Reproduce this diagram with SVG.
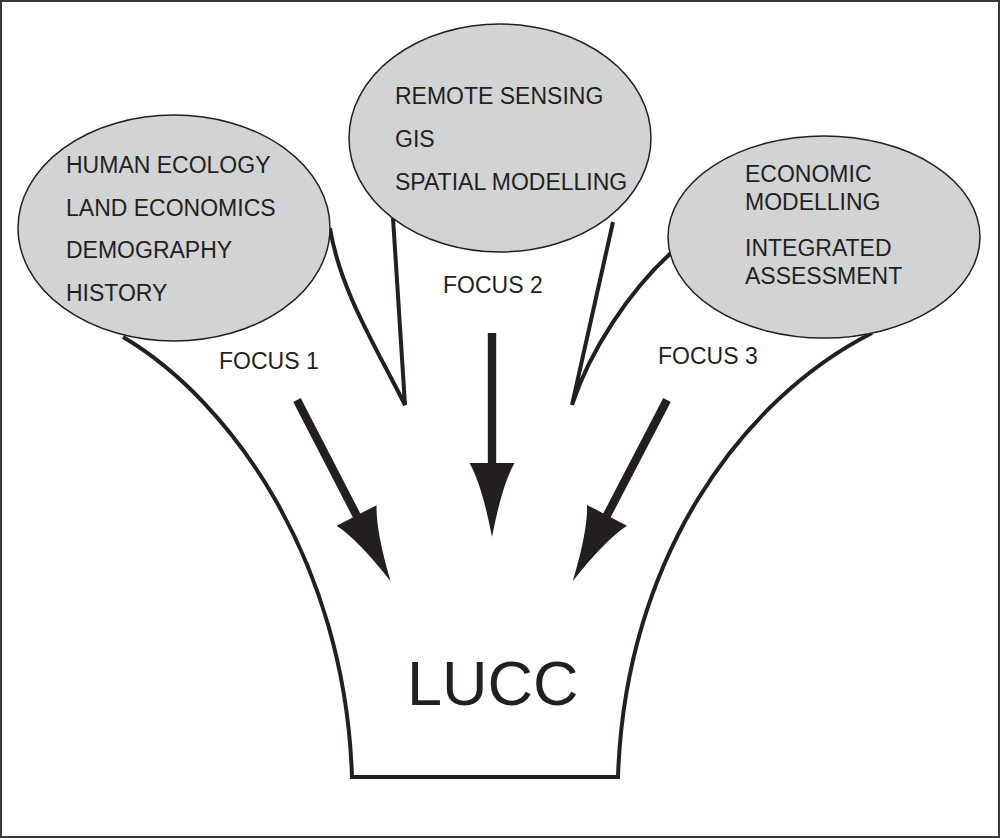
<svg xmlns="http://www.w3.org/2000/svg" xmlns:xlink="http://www.w3.org/1999/xlink" width="1001" height="839" viewBox="0 0 1001 839">
<style>
.t{font-family:"Liberation Sans",Arial,sans-serif;font-size:23px;fill:#231f20}
.big{font-family:"Liberation Sans",Arial,sans-serif;font-size:63px;fill:#231f20}
.ell{fill:#d1d3d4;stroke:#231f20;stroke-width:1.5}
.edge{fill:none;stroke:#231f20;stroke-width:4;stroke-linejoin:miter}
.arr{fill:#231f20}
</style>
<defs>
<g id="arrow">
<rect x="-4.2" y="0" width="8.4" height="134"/>
<path d="M-22.5,130 L22.5,130 Q10,152 0,204 Q-10,152 -22.5,130 Z"/>
</g>
</defs>
<rect x="1" y="1" width="998" height="836" fill="#fff" stroke="#3a3a3a" stroke-width="2"/>
<g id="connectors">
<path id="funnel" class="edge" d="M123,337 C230,400 345,560 352,777 L618,777 C625,560 740,400 872,333"/>
<path id="spike-left" class="edge" d="M330,228 C340,290 375,345 405,405 L393,218"/>
<path id="spike-right" class="edge" d="M613,222 L572,405 C590,350 630,290 672,252"/>
<g class="arr">
<use xlink:href="#arrow" transform="translate(297,400) rotate(-27.3)"/>
<use xlink:href="#arrow" transform="translate(492,333)"/>
<use xlink:href="#arrow" transform="translate(667,400) rotate(27.5)"/>
</g>
</g>
<g id="node-focus1">
<ellipse class="ell" cx="174" cy="228" rx="156" ry="113"/>
<text class="t" x="66" y="172.5">HUMAN ECOLOGY</text>
<text class="t" x="66" y="215.5">LAND ECONOMICS</text>
<text class="t" x="66" y="258">DEMOGRAPHY</text>
<text class="t" x="66" y="300.5">HISTORY</text>
</g>
<g id="node-focus2">
<ellipse class="ell" cx="500" cy="138" rx="151" ry="114"/>
<text class="t" x="395" y="104">REMOTE SENSING</text>
<text class="t" x="395" y="146.5">GIS</text>
<text class="t" x="395" y="190">SPATIAL MODELLING</text>
</g>
<g id="node-focus3">
<ellipse class="ell" cx="824" cy="237" rx="156" ry="101"/>
<text class="t" x="745" y="181.5">ECONOMIC</text>
<text class="t" x="745" y="209.5">MODELLING</text>
<text class="t" x="745" y="256">INTEGRATED</text>
<text class="t" x="745" y="284">ASSESSMENT</text>
</g>
<g id="labels">
<text class="t" x="219" y="369">FOCUS 1</text>
<text class="t" x="443" y="293">FOCUS 2</text>
<text class="t" x="658" y="364">FOCUS 3</text>
</g>
<g id="node-lucc">
<text class="big" x="407" y="705">LUCC</text>
</g>
</svg>
